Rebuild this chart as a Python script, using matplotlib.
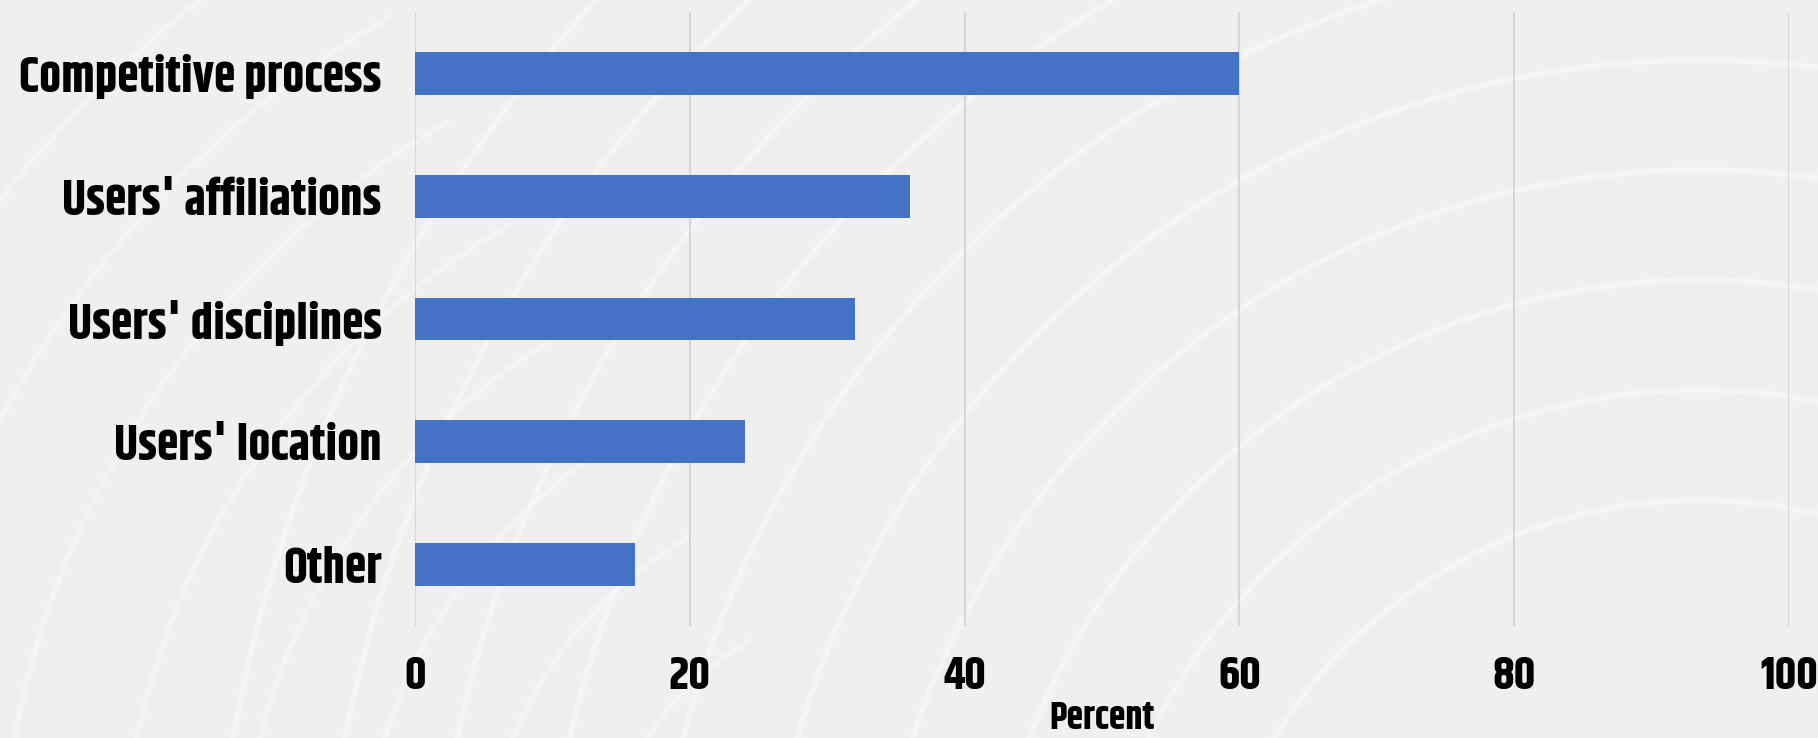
import matplotlib.pyplot as plt
from matplotlib.patches import Arc

categories = ["Competitive process", "Users' affiliations", "Users' disciplines", "Users' location", "Other"]
percent = [60, 36, 32, 24, 16]
xticks = [0, 20, 40, 60, 80, 100]

barColor = '#4472C4'
fontFamily = ['Khand', 'DejaVu Sans']

fig = plt.figure(figsize=(18.18, 7.38), dpi=100)
fig.patch.set_facecolor('#efefef')

# faint arcs to mimic the textured background
bg = fig.add_axes([0, 0, 1, 1], zorder=-1)
bg.set_xlim(0, 1818)
bg.set_ylim(738, 0)
bg.axis('off')
for r in range(500, 1500, 110):
    bg.add_patch(Arc((1700, 1000), 2 * r, 2 * r, theta1=0, theta2=360,
                     color='white', lw=4, alpha=0.35))
for r in range(300, 1200, 120):
    bg.add_patch(Arc((900, 900), 2 * r, 2 * r, theta1=180, theta2=240,
                     color='white', lw=4, alpha=0.3))

ax = fig.add_axes([415 / 1818, 1 - 626 / 738, (1789 - 415) / 1818, (626 - 12) / 738])
ax.set_facecolor('none')
y = list(range(len(categories)))
ax.barh(y, percent, height=0.35, color=barColor, zorder=3)
ax.set_ylim(len(categories) - 0.5, -0.5)
ax.set_xlim(0, 100)
ax.set_xticks(xticks)
ax.set_yticks(y)
ax.set_yticklabels(categories, fontsize=35, fontweight='bold', family=fontFamily)
ax.set_xticklabels([str(t) for t in xticks], fontsize=33, fontweight='bold', family=fontFamily)
ax.tick_params(axis='y', length=0, pad=24)
ax.tick_params(axis='x', length=0, pad=20)
ax.grid(axis='x', color='#d6d6d6', lw=1.5, zorder=0)
for s in ax.spines.values():
    s.set_visible(False)
ax.set_xlabel('Percent', fontsize=27, fontweight='bold', family=fontFamily, labelpad=3)

fig.savefig('out.png', dpi=100, facecolor=fig.get_facecolor())
